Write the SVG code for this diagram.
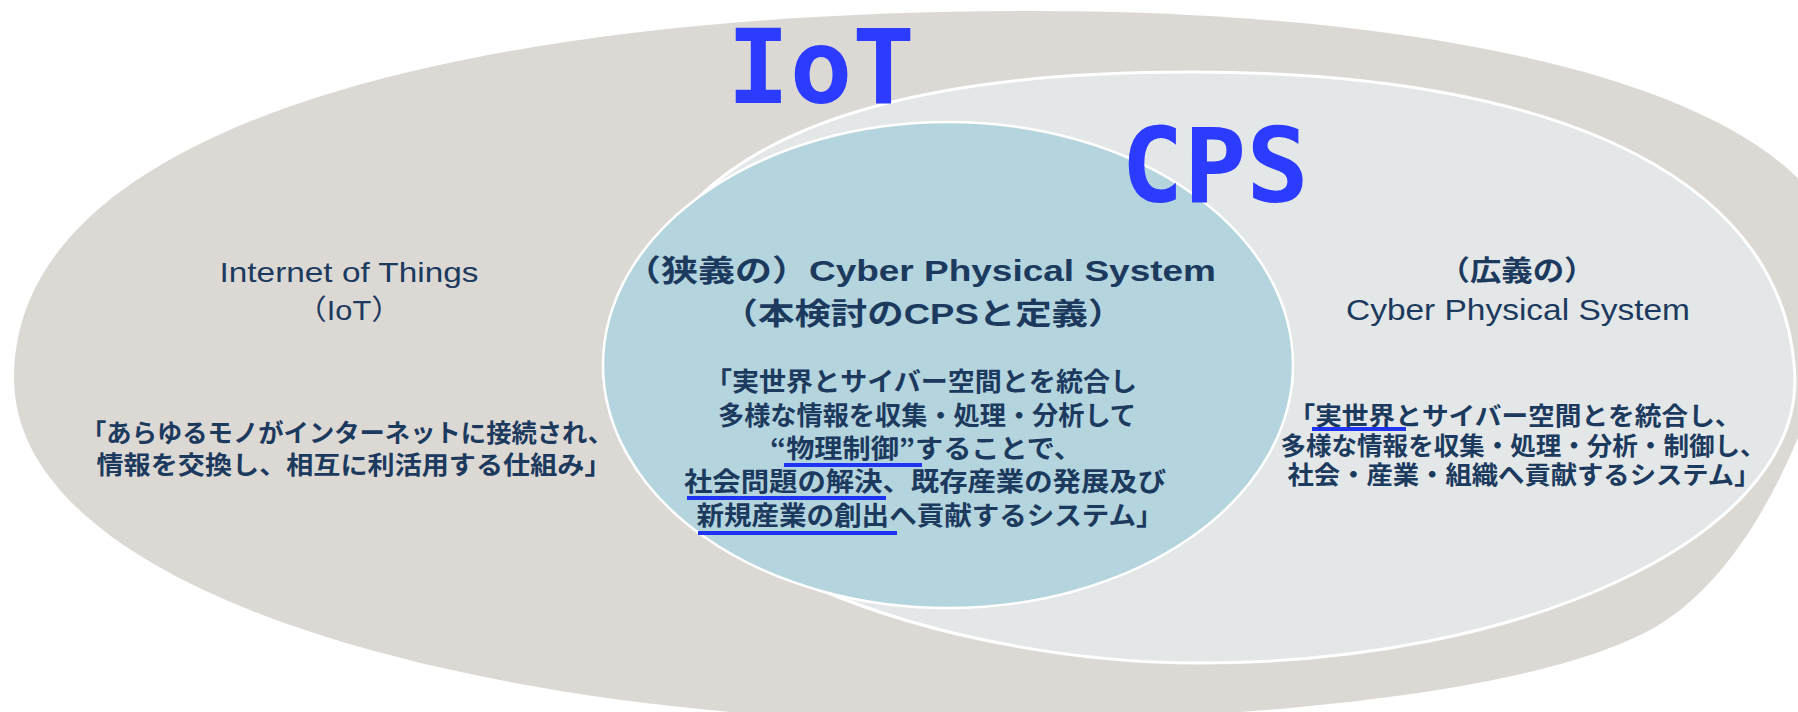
<svg xmlns="http://www.w3.org/2000/svg" width="1798" height="712" viewBox="0 0 1798 712">
  <defs>
    <style>
      .lat{font-family:"Liberation Sans","Noto Sans CJK JP",sans-serif;fill:#1c3a5e}
      .jp{font-family:"Noto Sans CJK JP",sans-serif;font-weight:bold;fill:#1c3a5e}
      .hd{font-family:"Liberation Sans","Noto Sans CJK JP",sans-serif;font-weight:bold;fill:#1c3a5e}
      .big{font-family:"DejaVu Sans Mono",monospace;font-weight:bold;fill:#2b3bff;font-size:104px}
      .ul{stroke:#1f33f5;stroke-width:4;fill:none}
    </style>
  </defs>
  <rect width="1798" height="712" fill="#ffffff"/>

  <!-- outer area: Internet of Things (tilted oval, runs past the right and bottom edges) -->
  <g id="iot-area">
    <path d="M14 378 C14 120 480 11 1032 11 C1420 11 1780 80 1840 240 C1850 320 1780 560 1650 630 C1520 700 1200 722 960 722 C500 722 14 600 14 378 Z" fill="#dcd9d5"/>
    <text class="lat" x="349" y="282" font-size="28" text-anchor="middle" textLength="259" lengthAdjust="spacingAndGlyphs">Internet of Things</text>
    <text class="lat" x="349" y="320" font-size="28" text-anchor="middle" textLength="106" lengthAdjust="spacingAndGlyphs">（IoT）</text>
    <text class="jp" x="347" y="442" font-size="25" text-anchor="middle" textLength="532" lengthAdjust="spacingAndGlyphs">「あらゆるモノがインターネットに接続され、</text>
    <text class="jp" x="354" y="474" font-size="25" text-anchor="middle" textLength="515" lengthAdjust="spacingAndGlyphs">情報を交換し、相互に利活用する仕組み」</text>
  </g>

  <!-- broad CPS -->
  <g id="cps-broad">
    <path d="M625 380 C625 170 820 72 1190 72 C1580 72 1790 190 1795 380 C1795 540 1520 663 1200 663 C950 663 625 560 625 380 Z" fill="#e3e7e8" stroke="#ffffff" stroke-width="3"/>
    <text class="hd" x="1517" y="281" font-size="28" text-anchor="middle" textLength="157" lengthAdjust="spacingAndGlyphs">（広義の）</text>
    <text class="lat" x="1518" y="320" font-size="30" text-anchor="middle" textLength="344" lengthAdjust="spacingAndGlyphs">Cyber Physical System</text>
    <text class="jp" x="1515" y="425" font-size="25" text-anchor="middle" textLength="453" lengthAdjust="spacingAndGlyphs">「実世界とサイバー空間とを統合し、</text>
    <text class="jp" x="1523" y="455" font-size="25" text-anchor="middle" textLength="485" lengthAdjust="spacingAndGlyphs">多様な情報を収集・処理・分析・制御し、</text>
    <text class="jp" x="1524" y="484" font-size="25" text-anchor="middle" textLength="473" lengthAdjust="spacingAndGlyphs">社会・産業・組織へ貢献するシステム」</text>
    <line class="ul" x1="1312" y1="429" x2="1406" y2="429" stroke-width="3"/>
  </g>

  <!-- narrow CPS (defined CPS) -->
  <g id="cps-narrow">
    <ellipse cx="948" cy="365" rx="345" ry="243" fill="#b4d4de" stroke="#ffffff" stroke-width="2.5"/>
    <text class="hd" x="920" y="281" font-size="30" text-anchor="middle" textLength="592" lengthAdjust="spacingAndGlyphs">（狭義の）Cyber Physical System</text>
    <text class="hd" x="923" y="324" font-size="30" text-anchor="middle" textLength="403" lengthAdjust="spacingAndGlyphs">（本検討のCPSと定義）</text>
    <text class="jp" x="921" y="391" font-size="26" text-anchor="middle" textLength="432" lengthAdjust="spacingAndGlyphs">「実世界とサイバー空間とを統合し</text>
    <text class="jp" x="927" y="425" font-size="26" text-anchor="middle" textLength="418" lengthAdjust="spacingAndGlyphs">多様な情報を収集・処理・分析して</text>
    <text class="jp" x="926" y="458" font-size="26" text-anchor="middle" textLength="312" lengthAdjust="spacingAndGlyphs">“物理制御”することで、</text>
    <text class="jp" x="925" y="491" font-size="26" text-anchor="middle" textLength="482" lengthAdjust="spacingAndGlyphs">社会問題の解決、既存産業の発展及び</text>
    <text class="jp" x="930" y="525" font-size="26" text-anchor="middle" textLength="467" lengthAdjust="spacingAndGlyphs">新規産業の創出へ貢献するシステム」</text>
    <line class="ul" x1="784" y1="465" x2="922" y2="465"/>
    <line class="ul" x1="687" y1="498" x2="886" y2="498"/>
    <line class="ul" x1="698" y1="533" x2="897" y2="533"/>
  </g>

  <!-- headline labels -->
  <g id="titles">
    <text class="big" x="821" y="103" text-anchor="middle">IoT</text>
    <text class="big" x="1215" y="202" text-anchor="middle">CPS</text>
  </g>
</svg>
